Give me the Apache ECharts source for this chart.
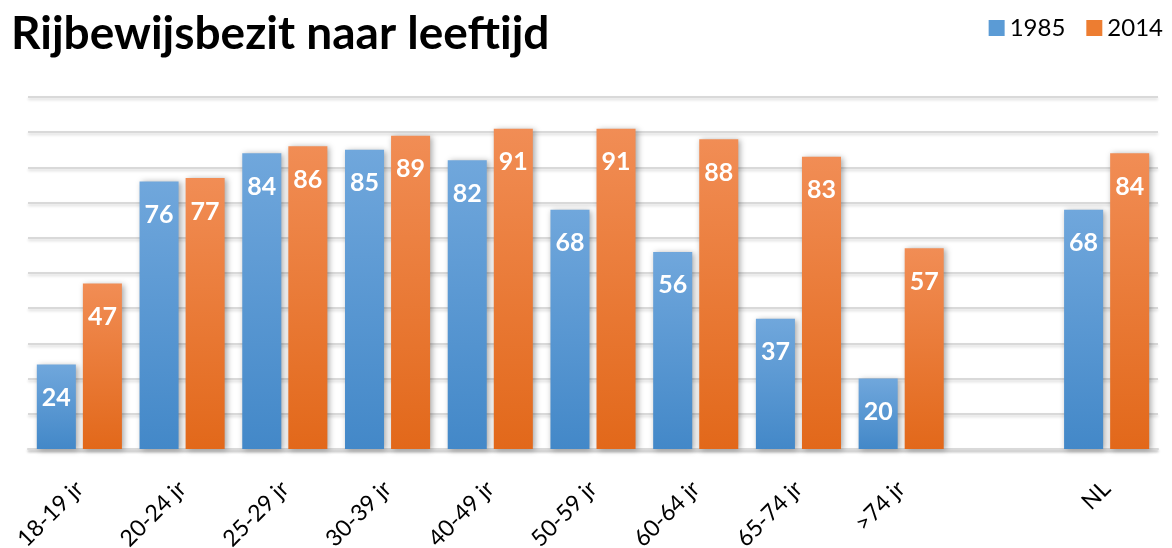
<!DOCTYPE html>
<html><head><meta charset="utf-8">
<script src="https://cdn.jsdelivr.net/npm/echarts@6/dist/echarts.min.js"></script>
<style>html,body{margin:0;padding:0;background:#fff}#c{width:1172px;height:548px}</style>
</head><body><div id="c"></div>
<script>
const categories = ['18-19 jr','20-24 jr','25-29 jr','30-39 jr','40-49 jr','50-59 jr','60-64 jr','65-74 jr','>74 jr','','NL'];
const values1985 = [24,76,84,85,82,68,56,37,20,null,68];
const values2014 = [47,77,86,89,91,91,88,83,57,null,84];
const seriesNames = ['1985','2014'];
const FONT = 'Lato';

const grad = (top, bottom) => new echarts.graphic.LinearGradient(0,0,0,1,[{offset:0,color:top},{offset:1,color:bottom}]);
const barShadow = {shadowColor:'rgba(0,0,0,0.35)', shadowBlur:6, shadowOffsetX:2, shadowOffsetY:1};
const labelStyle = {show:true, position:'insideTop', distance:21, color:'#fff', fontFamily:FONT, fontWeight:'bold', fontSize:25};

const chart = echarts.init(document.getElementById('c'));
chart.setOption({
  animation:false,
  title:{text:'Rijbewijsbezit naar leeftijd', left:6, top:6,
    textStyle:{fontFamily:FONT, fontWeight:'bold', fontSize:46, color:'#000'}},
  legend:{right:4, top:11, itemWidth:16, itemHeight:16, itemGap:21,
    textStyle:{fontFamily:FONT, fontSize:24, color:'#000'},
    data:[{name:seriesNames[0], icon:'rect', itemStyle:{color:'#5b9bd5'}},{name:seriesNames[1], icon:'rect', itemStyle:{color:'#ed7d31'}}]},
  grid:{left:28, right:14, top:97, bottom:99, containLabel:false, outerBoundsMode:'none'},
  xAxis:{type:'category', data:categories,
    axisLine:{show:true, lineStyle:{color:'#d9d9d9', width:2, shadowColor:'rgba(0,0,0,0.2)', shadowBlur:3, shadowOffsetY:2}},
    axisTick:{show:false},
    axisLabel:{rotate:45, margin:36, interval:0, color:'#000', fontFamily:FONT, fontSize:23}},
  yAxis:{type:'value', min:0, max:100, interval:10,
    axisLabel:{show:false}, axisLine:{show:false}, axisTick:{show:false},
    splitLine:{lineStyle:{color:'#d9d9d9', width:2, shadowColor:'rgba(0,0,0,0.15)', shadowBlur:3, shadowOffsetY:2}}},
  series:[
    {name:seriesNames[0], type:'bar', data:values1985, barWidth:'38%', barGap:'18%',
     itemStyle:Object.assign({color:grad('#70a7dc','#4388c8')}, barShadow), label:labelStyle},
    {name:seriesNames[1], type:'bar', data:values2014, barWidth:'38%', barGap:'18%',
     itemStyle:Object.assign({color:grad('#f18d55','#e2681a')}, barShadow), label:labelStyle}
  ]
});
</script></body></html>
